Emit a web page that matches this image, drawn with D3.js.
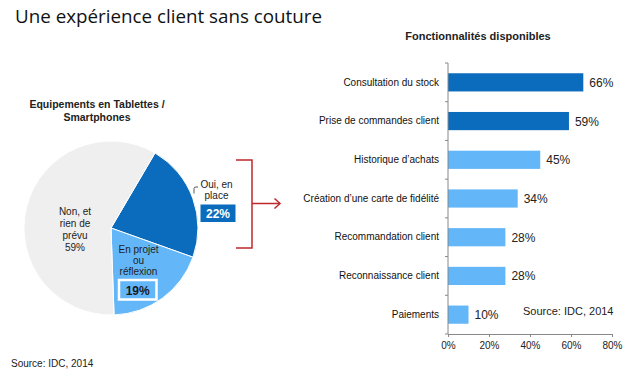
<!DOCTYPE html>
<html>
<head>
<meta charset="utf-8">
<script src="https://cdn.jsdelivr.net/npm/d3@7"></script>
<style>
  body { margin: 0; background: #fff; }
  text { font-family: "Liberation Sans", Arial, sans-serif; }
</style>
</head>
<body>
<div id="chart"></div>
<script>
// pie: equipment in tablets / smartphones
var pieNames = ["Oui, en place", "En projet ou réflexion", "Non, et rien de prévu"];
var pieValues = [22, 19, 59];

// bars: available features
var featureNames = ["Consultation du stock", "Prise de commandes client", "Historique d’achats",
  "Création d’une carte de fidélité", "Recommandation client", "Reconnaissance client", "Paiements"];
var featureValues = [66, 59, 45, 34, 28, 28, 10];
var xTicks = [0, 20, 40, 60, 80];

var dark = "#0b6cbd", light = "#63b6f8", grey = "#efefef", red = "#c0282d";

var svg = d3.select("#chart").append("svg")
  .attr("width", 630).attr("height", 378);

// main title
svg.append("text")
  .attr("x", 15).attr("y", 23)
  .style("font-family", "'Open Sans', sans-serif")
  .style("font-size", "18.8px")
  .attr("fill", "#111")
  .text("Une expérience client sans couture");

///////////////// pie /////////////////
svg.append("text").attr("x", 97).attr("y", 107.5)
  .attr("text-anchor", "middle").style("font-size", "10.5px").style("font-weight", "bold")
  .attr("fill", "#222").text("Equipements en Tablettes /");
svg.append("text").attr("x", 97).attr("y", 121)
  .attr("text-anchor", "middle").style("font-size", "10.5px").style("font-weight", "bold")
  .attr("fill", "#222").text("Smartphones");

var start = 30.4 * Math.PI / 180;
var pie = d3.pie().sort(null).startAngle(start).endAngle(start + 2 * Math.PI);
var arc = d3.arc().innerRadius(0).outerRadius(87);
var pieG = svg.append("g").attr("transform", "translate(111,228)");
pieG.selectAll("path")
  .data(pie(pieValues))
  .enter().append("path")
  .attr("d", arc)
  .attr("fill", function(d, i) { return [dark, light, grey][i]; })
  .attr("stroke", "#fff")
  .attr("stroke-width", 1);

function lines(x, ys, arr) {
  arr.forEach(function(t, i) {
    svg.append("text").attr("x", x).attr("y", ys[i])
      .attr("text-anchor", "middle").style("font-size", "10px")
      .attr("fill", "#222").text(t);
  });
}
lines(75, [215, 227, 239, 250.5], ["Non, et", "rien de", "prévu", pieValues[2] + "%"]);
lines(138.5, [253, 264, 275], ["En projet", "ou", "réflexion"]);
lines(216.5, [188, 199], ["Oui, en", "place"]);

// value boxes
svg.append("rect").attr("x", 119).attr("y", 280).attr("width", 37.5).attr("height", 19.5)
  .attr("fill", light).attr("stroke", "#fff").attr("stroke-width", 2.5);
svg.append("text").attr("x", 137.7).attr("y", 294.5).attr("text-anchor", "middle")
  .style("font-size", "12px").style("font-weight", "bold").attr("fill", "#1a1a1a")
  .text(pieValues[1] + "%");
svg.append("rect").attr("x", 200.5).attr("y", 204.5).attr("width", 35).attr("height", 17.5)
  .attr("fill", dark);
svg.append("text").attr("x", 218).attr("y", 217.5).attr("text-anchor", "middle")
  .style("font-size", "12px").style("font-weight", "bold").attr("fill", "#fff")
  .text(pieValues[0] + "%");

// small leader for "Oui, en place"
svg.append("path").attr("d", "M194,193.5 L194,188.5 Q194,187 196,187 L198,187")
  .attr("fill", "none").attr("stroke", "#333").attr("stroke-width", 0.8);

// red bracket + arrow
svg.append("path").attr("d", "M236,160 L252,160 L252,248 L236,248 M252,203.5 L280,203.5")
  .attr("fill", "none").attr("stroke", red).attr("stroke-width", 1.5);
svg.append("path").attr("d", "M274.5,198.5 L280,203.5 L274.5,208.5")
  .attr("fill", "none").attr("stroke", red).attr("stroke-width", 1.5);

svg.append("text").attr("x", 11).attr("y", 367)
  .style("font-size", "10px").attr("fill", "#222").text("Source: IDC, 2014");

///////////////// bars /////////////////
var x = d3.scaleLinear().domain([0, 80]).range([448, 612]);
var y = d3.scaleBand().domain(featureNames).range([63, 334])
  .paddingInner(0.53).paddingOuter(0.265);

svg.append("text").attr("x", 478).attr("y", 39.5).attr("text-anchor", "middle")
  .style("font-size", "11px").style("font-weight", "bold").attr("fill", "#222")
  .text("Fonctionnalités disponibles");

svg.selectAll("rect.bar")
  .data(featureNames)
  .enter().append("rect")
  .attr("class", "bar")
  .attr("x", x(0))
  .attr("y", function(d) { return y(d); })
  .attr("width", function(d, i) { return x(featureValues[i]) - x(0); })
  .attr("height", y.bandwidth())
  .attr("fill", function(d, i) { return i < 2 ? dark : light; });

svg.selectAll("text.val")
  .data(featureNames)
  .enter().append("text")
  .attr("class", "val")
  .attr("x", function(d, i) { return x(featureValues[i]) + 6; })
  .attr("y", function(d) { return y(d) + y.bandwidth() / 2 + 4.5; })
  .style("font-size", "12px").attr("fill", "#222")
  .text(function(d, i) { return featureValues[i] + "%"; });

// x axis
var xAxis = svg.append("g").attr("transform", "translate(0,334)")
  .call(d3.axisBottom(x).tickValues(xTicks).tickSize(3).tickSizeOuter(0)
    .tickFormat(function(d) { return d + "%"; }));
xAxis.select(".domain").attr("stroke", "#888");
xAxis.selectAll(".tick line").attr("stroke", "#888");
xAxis.selectAll(".tick text").style("font-size", "10px").attr("fill", "#222")
  .style("font-family", "'Liberation Sans', Arial, sans-serif").attr("dy", "0.9em");

// y axis: labels from band scale, ticks at band boundaries
var yAxis = svg.append("g").attr("transform", "translate(448,0)")
  .call(d3.axisLeft(y).tickSize(0).tickPadding(9));
yAxis.select(".domain").remove();
yAxis.selectAll(".tick text").style("font-size", "10px").attr("fill", "#111")
  .style("font-family", "'Liberation Sans', Arial, sans-serif");
var bounds = d3.range(featureNames.length + 1).map(function(i) { return 63 + i * y.step(); });
svg.append("g").selectAll("line")
  .data(bounds)
  .enter().append("line")
  .attr("x1", x(0) - 3).attr("x2", x(0))
  .attr("y1", function(d) { return d; }).attr("y2", function(d) { return d; })
  .attr("stroke", "#888");
svg.append("line").attr("x1", x(0)).attr("x2", x(0)).attr("y1", 63).attr("y2", 334)
  .attr("stroke", "#888");

svg.append("text").attr("x", 523).attr("y", 315)
  .style("font-size", "11px").attr("fill", "#222").text("Source: IDC, 2014");
</script>
</body>
</html>
